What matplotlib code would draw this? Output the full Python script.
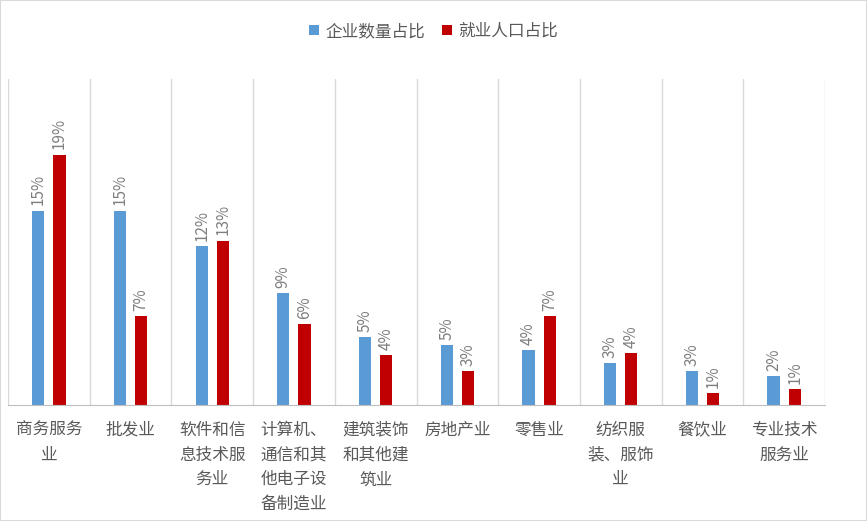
import matplotlib
matplotlib.use("Agg")
import matplotlib.pyplot as plt
import numpy as np

plt.rcParams["font.family"] = ["Noto Sans CJK SC", "DejaVu Sans"]

categories = ["商务服务\n业", "批发业", "软件和信\n息技术服\n务业", "计算机、\n通信和其\n他电子设\n备制造业",
              "建筑装饰\n和其他建\n筑业", "房地产业", "零售业", "纺织服\n装、服饰\n业", "餐饮业", "专业技术\n服务业"]
enterprise = [14.9, 14.9, 12.2, 8.6, 5.2, 4.6, 4.2, 3.2, 2.6, 2.2]
employment = [19.2, 6.8, 12.6, 6.2, 3.8, 2.6, 6.8, 4.0, 0.9, 1.2]
series_names = ["企业数量占比", "就业人口占比"]

fig = plt.figure(figsize=(8.67, 5.21), dpi=100)
ax = fig.add_axes([8/867, 116/521, 817/867, 326/521])
x = np.arange(len(categories))
w = 0.15
off = 0.13
b1 = ax.bar(x - off, enterprise, w, color="#5B9BD5", label=series_names[0])
b2 = ax.bar(x + off, employment, w, color="#C00000", label=series_names[1])
for bars, vals in ((b1, enterprise), (b2, employment)):
    for r, v in zip(bars, vals):
        ax.text(r.get_x() + r.get_width()/2, v + 0.4, f"{round(v):.0f}%", rotation=90,
                ha="center", va="bottom", fontsize=11, color="#7F7F7F")
ax.set_xlim(-0.5, len(categories) - 0.5)
ax.set_ylim(0, 25)
for i in range(len(categories) + 1):
    ax.axvline(i - 0.5, color="#D9D9D9", lw=1)
for s in ["top", "left", "right"]:
    ax.spines[s].set_visible(False)
ax.spines["bottom"].set_color("#BFBFBF")
ax.set_yticks([])
ax.set_xticks(x)
ax.set_xticklabels(categories, fontsize=12, color="#595959", linespacing=1.6, va="top")
ax.tick_params(axis="x", length=0, pad=12)
fig.legend(handles=[b1, b2], loc="upper center", bbox_to_anchor=(0.5, 0.985), ncol=2,
           frameon=False, fontsize=12, handlelength=0.6, handleheight=0.6, columnspacing=1.0,
           handletextpad=0.4, labelcolor="#595959")
fig.patches.append(matplotlib.patches.Rectangle((0, 0), 1, 1, transform=fig.transFigure,
                   fill=False, edgecolor="#D9D9D9", lw=1.5))
fig.savefig("out.png", dpi=100)
